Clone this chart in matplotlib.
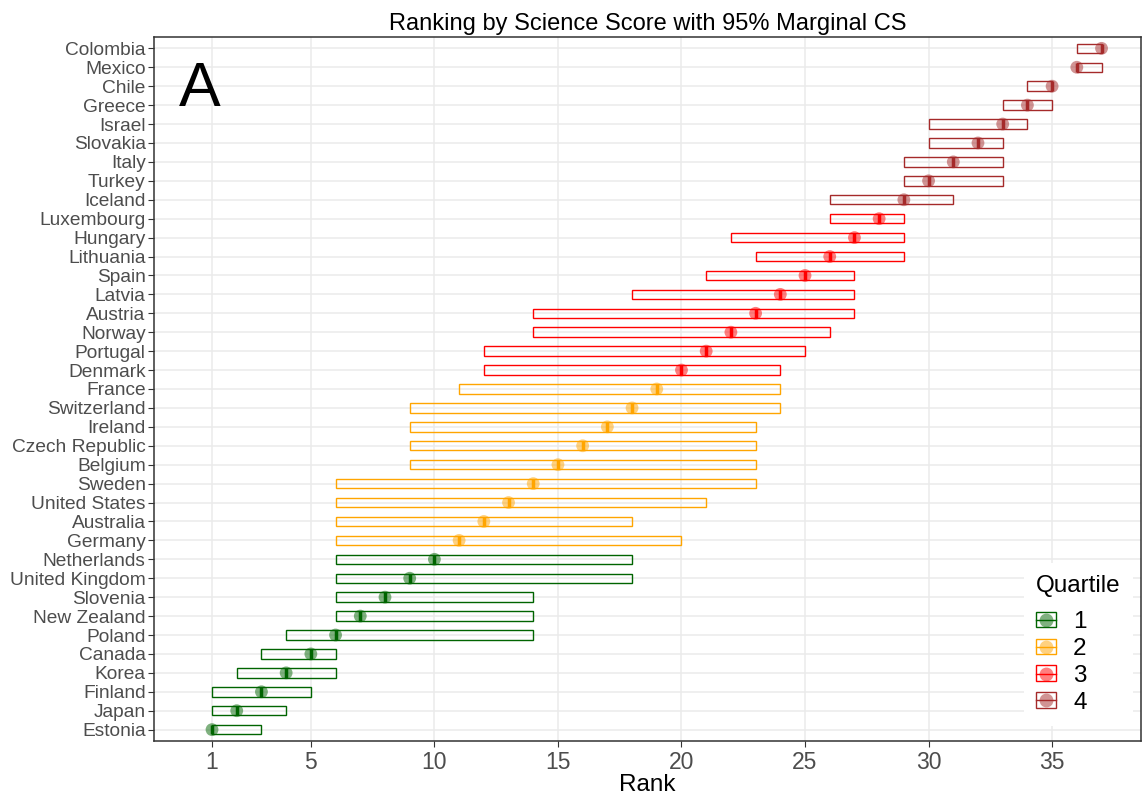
import matplotlib
matplotlib.use("Agg")
import matplotlib.pyplot as plt
from matplotlib.patches import Patch
from matplotlib.lines import Line2D

plt.rcParams['font.family'] = ['Liberation Sans', 'DejaVu Sans']

# Countries from bottom (rank 1) to top (rank 37)
countries = ["Estonia", "Japan", "Finland", "Korea", "Canada", "Poland", "New Zealand",
             "Slovenia", "United Kingdom", "Netherlands", "Germany", "Australia",
             "United States", "Sweden", "Belgium", "Czech Republic", "Ireland",
             "Switzerland", "France", "Denmark", "Portugal", "Norway", "Austria",
             "Latvia", "Spain", "Lithuania", "Hungary", "Luxembourg", "Iceland",
             "Turkey", "Italy", "Slovakia", "Israel", "Greece", "Chile", "Mexico",
             "Colombia"]
rank = list(range(1, 38))
lower = [1, 1, 1, 2, 3, 4, 6, 6, 6, 6, 6, 6, 6, 6, 9, 9, 9, 9, 11, 12, 12, 14, 14,
         18, 21, 23, 22, 26, 26, 29, 29, 30, 30, 33, 34, 36, 36]
upper = [3, 4, 5, 6, 6, 14, 14, 14, 18, 18, 20, 18, 21, 23, 23, 23, 23, 24, 24, 24,
         25, 26, 27, 27, 27, 29, 29, 29, 31, 33, 33, 33, 34, 35, 35, 37, 37]
quartile = [1] * 10 + [2] * 9 + [3] * 9 + [4] * 9
quartile_colors = {1: "#006400", 2: "#FFA500", 3: "#FF0000", 4: "#A52A2A"}
xticks = [1, 5, 10, 15, 20, 25, 30, 35]

fig = plt.figure(figsize=(11.43, 7.99), dpi=100)
ax = fig.add_axes([0.1347, 0.0726, 0.8636, 0.8811])

ypos = list(range(len(countries)))
h = 0.5
for y, r, lo, up, q in zip(ypos, rank, lower, upper, quartile):
    c = quartile_colors[q]
    ax.barh(y, up - lo, left=lo, height=h, fill=False, edgecolor=c, linewidth=1.0, zorder=3)
    ax.vlines(r, y - h / 2, y + h / 2, color=c, linewidth=2.5, zorder=4)
    ax.scatter(r, y, s=85, color=c, alpha=0.5, edgecolors='none', zorder=5)

ax.set_xlim(-1.35, 38.6)
ax.set_ylim(-0.6, len(countries) - 0.4)
ax.set_xticks(xticks)
ax.set_yticks(ypos)
ax.set_yticklabels(countries)
ax.tick_params(axis='y', labelsize=13.8, colors='#333333', labelcolor='#4D4D4D', length=4, pad=2)
ax.tick_params(axis='x', labelsize=16.5, colors='#333333', labelcolor='#4D4D4D', length=4, pad=3)
ax.grid(True, color='#EBEBEB', linewidth=1.1, zorder=0)
ax.set_axisbelow(True)
for s in ax.spines.values():
    s.set_color('#333333')
    s.set_linewidth(1.1)

ax.set_xlabel("Rank", fontsize=17.5, labelpad=0)
ax.set_title("Ranking by Science Score with 95% Marginal CS", fontsize=17, pad=5)
ax.text(0.025, 0.925, "A", transform=ax.transAxes, fontsize=45, va='center', ha='left')

handles = []
for q in [1, 2, 3, 4]:
    c = quartile_colors[q]
    box = Patch(facecolor='none', edgecolor=c, linewidth=1.0)
    mid = Line2D([0], [0], color=c, linewidth=1.0, marker='o', markersize=10,
                 markerfacecolor=matplotlib.colors.to_rgba(c, 0.5), markeredgecolor='none')
    handles.append((box, mid))
leg = ax.legend(handles, ["1", "2", "3", "4"], title="Quartile", loc='lower right',
                bbox_to_anchor=(1.004, 0.0044), frameon=True, fontsize=17.5, title_fontsize=17.5,
                handlelength=0.82, handleheight=0.6, labelspacing=0.2, handletextpad=0.7,
                borderpad=0.5, fancybox=False)
leg.get_frame().set_edgecolor('none')
leg.get_frame().set_facecolor('white')
leg.get_frame().set_alpha(1.0)
leg._legend_box.align = "left"
leg._legend_box.sep = 10

fig.savefig("out.png", dpi=100)
